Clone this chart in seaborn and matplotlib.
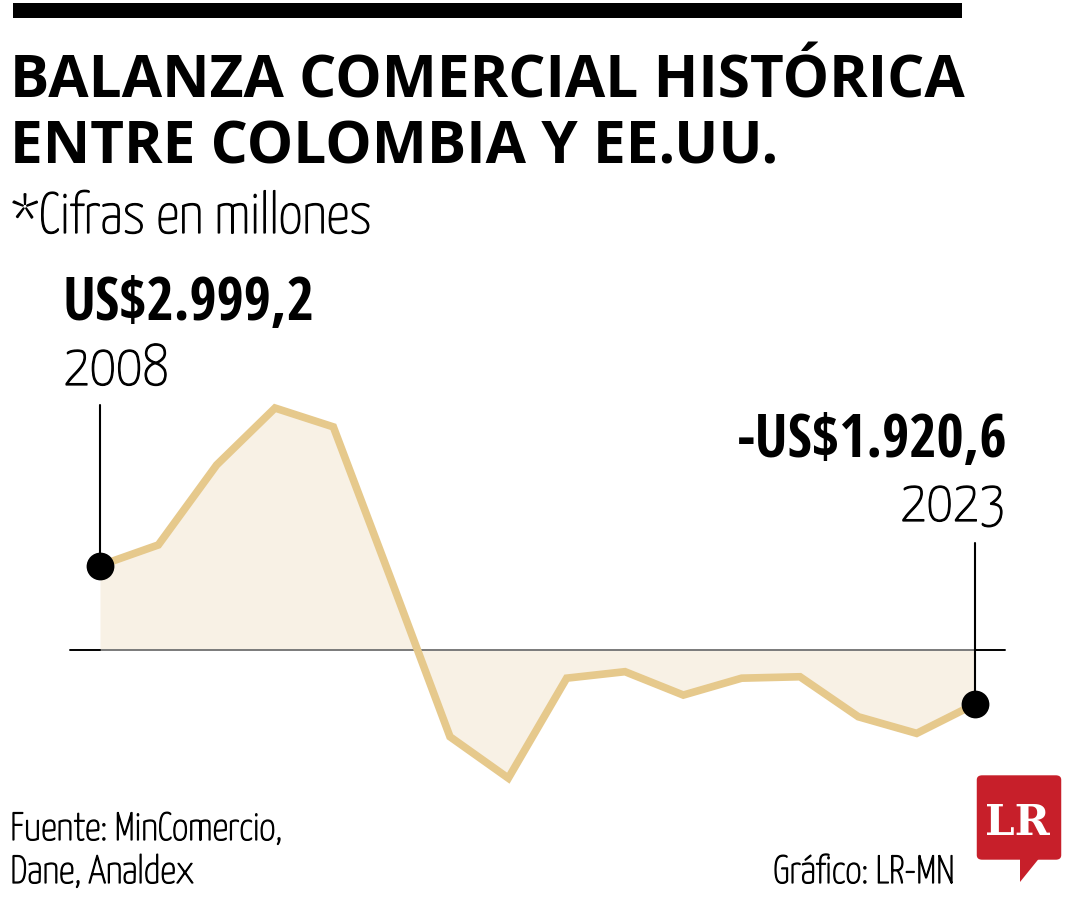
import matplotlib
matplotlib.use("Agg")
import matplotlib.pyplot as plt
import matplotlib.transforms as mtransforms
import matplotlib.patheffects as pe
from matplotlib.patches import Rectangle, FancyBboxPatch, Polygon
from matplotlib.textpath import TextPath
from matplotlib.font_manager import FontProperties
import seaborn as sns
import pandas as pd

# ---------------- data ----------------
years = [2008, 2009, 2010, 2011, 2012, 2013, 2014, 2015,
         2016, 2017, 2018, 2019, 2020, 2021, 2022, 2023]
balance = [2999.2, 3730, 6570, 8590, 7920, 2450, -3080, -4550,
           -1000, -770, -1600, -1000, -950, -2370, -2960, -1920.6]

title_lines = ["BALANZA COMERCIAL HISTÓRICA", "ENTRE COLOMBIA Y EE.UU."]
subtitle = "*Cifras en millones"
first_label = "US$2.999,2"
last_label = "-US$1.920,6"
source_lines = ["Fuente: MinComercio,", "Dane, Analdex"]
credit = "Gráfico: LR-MN"
logo_text = "LR"

# ---------------- styling ----------------
W, H, DPI = 1080, 900, 100
LINE_C = "#E6C98C"
FILL_C = "#F8F1E5"
RED = "#C71F2A"

sns.set_theme(style="white")
plt.rcParams["font.family"] = ["Open Sans", "DejaVu Sans"]

fig = plt.figure(figsize=(W / DPI, H / DPI), dpi=DPI)
fig.patch.set_facecolor("white")

F_TITLE = FontProperties(family="Open Sans", weight=700)
F_BOLDC = FontProperties(family="Open Sans Condensed", weight=700)
F_LIGHT = FontProperties(family="Yanone Kaffeesatz", weight=200)
F_LOGO = FontProperties(family="DejaVu Serif", weight=700)
LIGHT_FX = [pe.withStroke(linewidth=0.9, foreground="black")]


def fx(x):
    return x / W


def fy(y):
    return 1 - y / H


def measure(s, fp):
    ext = TextPath((0, 0), s, size=100, prop=fp).get_extents()
    return ext.x0, ext.width


def size_for(s, fp, width_px):
    x0, w = measure(s, fp)
    return width_px / w * 100 * 72 / DPI  # points


def put(s, fp, x, y, size_pt, align="left", color="black", effects=None):
    """Place text so its inked edge sits at x (left or right) and baseline at y (pixels)."""
    x0, w = measure(s, fp)
    scale = size_pt * DPI / 72 / 100
    left = x if align == "left" else x - w * scale
    t = fig.text(fx(left - x0 * scale), fy(y), s, fontproperties=fp,
                 fontsize=size_pt, color=color, ha="left", va="baseline")
    if effects:
        t.set_path_effects(effects)
    return t


# ---------------- header ----------------
fig.add_artist(Rectangle((fx(13), fy(18)), fx(962) - fx(13), fy(3) - fy(18),
                         transform=fig.transFigure, color="black", lw=0))
t1 = size_for(title_lines[0], F_TITLE, 950)
put(title_lines[0], F_TITLE, 15, 97, t1)
put(title_lines[1], F_TITLE, 15, 163, t1)
put(subtitle, F_LIGHT, 13, 233, size_for(subtitle, F_LIGHT, 356), effects=LIGHT_FX)

# ---------------- chart ----------------
px_per = 35.5          # value units per pixel
zero_px, top_px, bot_px = 650, 400, 800
ax = fig.add_axes([fx(100), fy(bot_px), fx(975) - fx(100), (bot_px - top_px) / H])
ax.set_xlim(years[0], years[-1])
ax.set_ylim(-(bot_px - zero_px) * px_per, (zero_px - top_px) * px_per)
ax.axis("off")

df = pd.DataFrame({"year": years, "balance": balance})
ax.fill_between(df["year"], df["balance"], 0, color=FILL_C, lw=0, zorder=1)
ax.axhline(0, color="#7a7a7a", lw=1.4, zorder=2)
sns.lineplot(data=df, x="year", y="balance", ax=ax, color=LINE_C, lw=5.5,
             zorder=3, solid_joinstyle="miter", solid_capstyle="butt")

# black stubs of the zero line beyond the first / last year
bt = mtransforms.blended_transform_factory(ax.transAxes, ax.transData)
stub = 30 / 875
ax.plot([-stub, 0], [0, 0], color="black", lw=1.4, transform=bt, clip_on=False, zorder=4)
ax.plot([1, 1 + stub], [0, 0], color="black", lw=1.4, transform=bt, clip_on=False, zorder=4)

# leader lines to the labels
lt = mtransforms.blended_transform_factory(ax.transData, ax.transAxes)
def axfrac(ypx):
    return (bot_px - ypx) / (bot_px - top_px)
def data_to_frac(v):
    lo, hi = ax.get_ylim()
    return (v - lo) / (hi - lo)
ax.plot([years[0]] * 2, [data_to_frac(balance[0]), axfrac(405)], color="black",
        lw=1.5, transform=lt, clip_on=False, zorder=4)
ax.plot([years[-1]] * 2, [data_to_frac(balance[-1]), axfrac(543)], color="black",
        lw=1.5, transform=lt, clip_on=False, zorder=4)

sns.scatterplot(x=[years[0], years[-1]], y=[balance[0], balance[-1]], ax=ax,
                s=400, color="black", edgecolor="black", linewidth=0, zorder=6,
                clip_on=False, legend=False)

# value labels
b_size = size_for(first_label, F_BOLDC, 246)
put(first_label, F_BOLDC, 66, 320, b_size)
y_size = size_for(str(years[0]), F_LIGHT, 91) * 1.1
put(str(years[0]), F_LIGHT, 66, 385, y_size, effects=LIGHT_FX)
put(last_label, F_BOLDC, 1005, 457, b_size, align="right")
put(str(years[-1]), F_LIGHT, 1002, 521, y_size, align="right", effects=LIGHT_FX)

# ---------------- footer ----------------
f_size = size_for(source_lines[0], F_LIGHT, 267)
put(source_lines[0], F_LIGHT, 13, 840, f_size, effects=LIGHT_FX)
put(source_lines[1], F_LIGHT, 13, 883, f_size, effects=LIGHT_FX)
put(credit, F_LIGHT, 952, 883, f_size, align="right", effects=LIGHT_FX)

# logo
fig.add_artist(FancyBboxPatch((fx(980), fy(857)), fx(1058) - fx(980), fy(778) - fy(857),
                              boxstyle="round,pad=0.003,rounding_size=0.005",
                              transform=fig.transFigure, color=RED, lw=0))
fig.add_artist(Polygon([(fx(1020), fy(856)), (fx(1041), fy(856)), (fx(1020), fy(882))],
                       closed=True, transform=fig.transFigure, color=RED, lw=0))
put(logo_text, F_LOGO, 987, 835, size_for(logo_text, F_LOGO, 63), color="white")

fig.savefig("out.png", dpi=DPI, facecolor="white")
